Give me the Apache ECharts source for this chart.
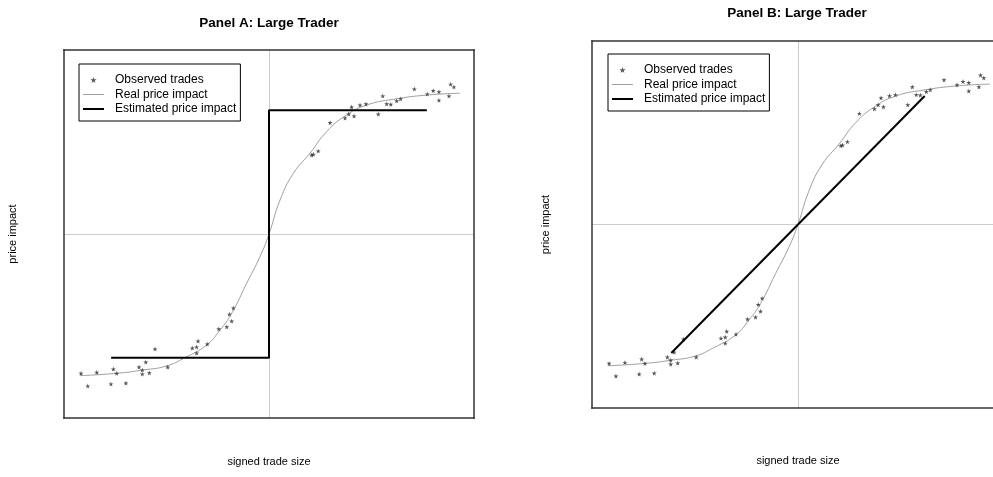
<!DOCTYPE html>
<html>
<head>
<meta charset="utf-8">
<script src="https://cdn.jsdelivr.net/npm/echarts@6/dist/echarts.min.js"></script>
<style>
html,body{margin:0;padding:0;background:#fff;}
#chart{width:993px;height:477px;}
</style>
</head>
<body>
<div id="chart"></div>
<script>
// Observed trades (signed trade size, price impact) in axis units [-100,100]
const tradesX = [-91.7,-88.4,-84.0,-77.1,-75.9,-74.3,-69.8,-63.4,-61.8,-61.8,-60.1,-58.4,-55.6,-49.4,-37.4,-35.3,-34.6,-35.3,-30.1,-24.5,-20.6,-19.3,-18.2,-17.4,
                 20.8,21.6,24.0,29.8,37.1,38.9,40.3,41.5,44.4,47.3,53.3,55.5,57.4,59.4,62.3,64.2,70.9,77.2,80.1,82.9,82.9,87.8,88.6,90.2];
const tradesY = [-75.7,-82.6,-75.2,-81.5,-73.4,-75.7,-81.0,-72.3,-73.9,-76.1,-69.6,-75.5,-62.5,-72.3,-62.0,-61.4,-58.2,-64.7,-59.8,-51.6,-50.5,-43.6,-47.3,-40.2,
                 42.9,43.3,45.1,60.5,63.0,65.2,69.0,64.1,70.1,70.7,65.2,75.0,70.7,70.5,72.4,73.4,78.8,76.1,77.9,77.3,72.7,75.0,81.4,79.9];
// Real price impact curve
const realX = [-92.2,-74.3,-61.3,-49.9,-41.0,-30.4,-23.9,-18.2,-10.9,-4.4,0,5.4,11.9,20.0,28.1,37.9,47.7,60.6,76.9,93.2];
const realY = [-77.0,-75.7,-73.9,-71.7,-67.2,-60.3,-52.2,-43.1,-26.8,-12.3,0,18.5,33.0,43.9,55.6,64.7,70.1,73.2,75.5,76.5];
// Estimated price impact, panel A (step) and panel B (linear)
const estAX = [-77,0,0,77];
const estAY = [-67.2,-67.2,67.2,67.2];
const estBX = [-61.5,61.5];
const estBY = [-70,70];
// Texts
const titles = ['Panel A: Large Trader','Panel B: Large Trader'];
const xName = 'signed trade size';
const yName = 'price impact';
const names = ['Observed trades','Real price impact','Estimated price impact'];

const zip = (a,b) => a.map((v,i) => [v,b[i]]);
const STAR = 'path://M50,0 L61,35 L98,35 L68,57 L79,91 L50,70 L21,91 L32,57 L2,35 L39,35 Z';
const FONT = '"Liberation Sans", Arial, sans-serif';
const FRAME = {show:true,onZero:false,lineStyle:{color:'#333',width:1.5,cap:'square'}};

function baseAxis(gi, position, withGrid){
  return {gridIndex:gi,type:'value',min:-100,max:100,interval:100,position:position,
    axisLine:FRAME,axisTick:{show:false},axisLabel:{show:false},
    splitLine:{show:withGrid,showMinLine:false,showMaxLine:false,lineStyle:{color:'#cccccc',width:1}}};
}
function axisX(gi, gap){
  return Object.assign(baseAxis(gi,'bottom',true),{
    name:xName,nameLocation:'middle',nameGap:gap,
    nameTextStyle:{fontFamily:FONT,fontSize:11,color:'#000'}});
}
function axisY(gi, gap){
  return Object.assign(baseAxis(gi,'left',true),{
    name:yName,nameLocation:'middle',nameGap:gap,nameRotate:90,
    nameTextStyle:{fontFamily:FONT,fontSize:11,color:'#000'}});
}
function seriesFor(ai, ex, ey){
  return [
    {name:names[1],type:'line',xAxisIndex:ai,yAxisIndex:ai,data:zip(realX,realY),
     symbol:'none',smooth:0.5,lineStyle:{color:'#a0a0a0',width:1},itemStyle:{color:'#a0a0a0'},z:2,silent:true},
    {name:names[0],type:'scatter',xAxisIndex:ai,yAxisIndex:ai,data:zip(tradesX,tradesY),
     symbol:STAR,symbolSize:5,itemStyle:{color:'#2a2a2a'},z:3,silent:true},
    {name:names[2],type:'line',xAxisIndex:ai,yAxisIndex:ai,data:zip(ex,ey),
     symbol:'none',lineStyle:{color:'#000',width:2},itemStyle:{color:'#000'},z:4,silent:true}
  ];
}
function legendAt(left, top){
  return {orient:'vertical',left:left,top:top,
    data:[
      {name:names[0]},
      {name:names[1],icon:'path://M0,0 L21,0 L21,1 L0,1 Z',itemStyle:{color:'#a0a0a0'}},
      {name:names[2],icon:'path://M0,0 L21,0 L21,2 L0,2 Z',itemStyle:{color:'#000'}}
    ],
    itemWidth:21,itemHeight:6,itemGap:2.5,
    padding:[10,4,6,4],borderColor:'#000',borderWidth:1,backgroundColor:'#fff',borderRadius:0,
    selectedMode:false,
    textStyle:{fontFamily:FONT,fontSize:12,color:'#000',padding:[0,0,0,6]}};
}

const chart = echarts.init(document.getElementById('chart'), null, {renderer:'canvas'});
chart.setOption({
  animation:false,
  backgroundColor:'#fff',
  grid:[
    {left:64,top:50,width:410,height:368,show:false,outerBoundsMode:'none',containLabel:false},
    {left:592,top:41,width:412,height:367,show:false,outerBoundsMode:'none',containLabel:false}
  ],
  xAxis:[axisX(0,38),baseAxis(0,'top',false),axisX(1,47),baseAxis(1,'top',false)],
  yAxis:[axisY(0,46),baseAxis(0,'right',false),axisY(1,41),baseAxis(1,'right',false)],
  legend:[legendAt(79,64),legendAt(608,54)],
  graphic:[
    {type:'text',x:269,y:23,style:{text:titles[0],font:'bold 13.5px '+FONT,fill:'#000',textAlign:'center',textVerticalAlign:'middle'}},
    {type:'text',x:797,y:13,style:{text:titles[1],font:'bold 13.5px '+FONT,fill:'#000',textAlign:'center',textVerticalAlign:'middle'}}
  ],
  series:[].concat(seriesFor(0,estAX,estAY), seriesFor(2,estBX,estBY))
});
</script>
</body>
</html>
